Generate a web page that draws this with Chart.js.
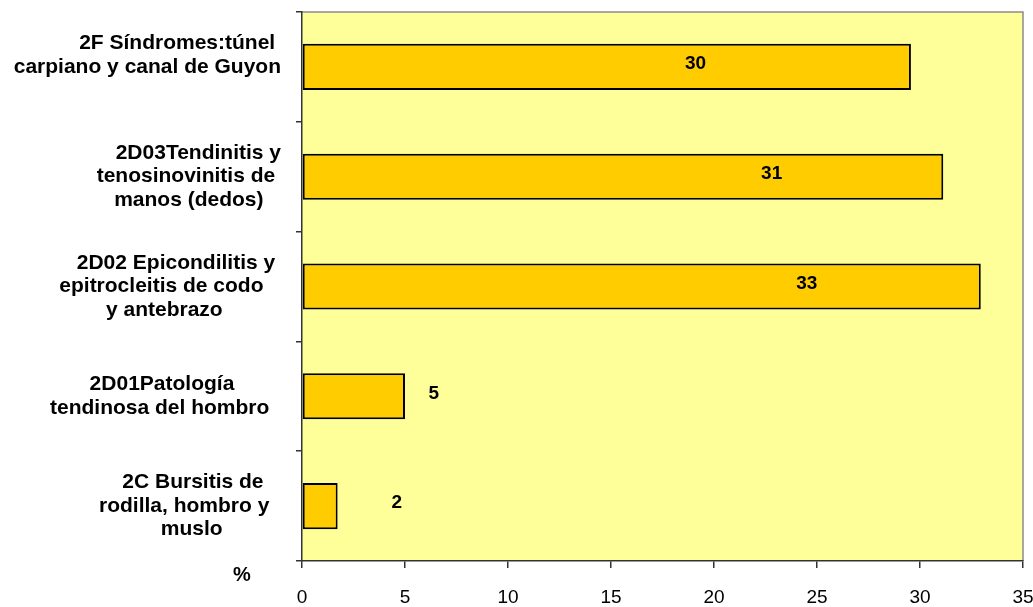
<!DOCTYPE html>
<html>
<head>
<meta charset="utf-8">
<script src="https://cdn.jsdelivr.net/npm/chart.js@4"></script>
<style>
  html, body { margin: 0; padding: 0; background: #fff; }
  #wrap { width: 1033px; height: 607px; }
</style>
</head>
<body>
<div id="wrap"><canvas id="grafico"></canvas></div>
<script>
// Categorías (líneas tal como aparecen; los espacios finales desplazan el texto como en el original)
const categorias = [
  ['2F Síndromes:túnel ', 'carpiano y canal de Guyon', ''],
  ['2D03Tendinitis y', 'tenosinovinitis de ', 'manos (dedos)   '],
  ['2D02 Epicondilitis y ', 'epitrocleitis de codo   ', 'y antebrazo          '],
  ['2D01Patología        ', 'tendinosa del hombro  '],
  ['2C Bursitis de   ', 'rodilla, hombro y  ', 'muslo          ']
];
// Porcentajes
const porcentajes = [29.56, 31.13, 32.95, 5.0, 1.73];
// Eje X
const ejeMin = 0;
const ejeMax = 35;
const ejePaso = 5;
const tituloEje = '%';

const fuente = "'Liberation Sans', Arial, sans-serif";

// dónde va cada etiqueta de valor (en unidades del eje X)
const posEtiqueta = [19.1, 22.8, 24.5, 6.4, 4.6];

// Fondo amarillo del área de trazado con borde gris arriba y a la derecha
const fondo = {
  id: 'fondo',
  beforeDraw(chart) {
    const { ctx, chartArea: a } = chart;
    ctx.save();
    ctx.fillStyle = '#FFFF99';
    ctx.fillRect(a.left, a.top, a.right - a.left, a.bottom - a.top);
    ctx.strokeStyle = '#8c8c8c';
    ctx.lineWidth = 1.5;
    ctx.beginPath();
    ctx.moveTo(a.left, a.top);
    ctx.lineTo(a.right, a.top);
    ctx.lineTo(a.right, a.bottom);
    ctx.stroke();
    ctx.restore();
  }
};

// Etiquetas de valor y el "%"
const etiquetas = {
  id: 'etiquetas',
  afterDatasetsDraw(chart) {
    const { ctx, scales: { x } } = chart;
    const meta = chart.getDatasetMeta(0);
    ctx.save();
    ctx.fillStyle = '#000';
    ctx.font = 'bold 19px ' + fuente;
    ctx.textAlign = 'center';
    ctx.textBaseline = 'middle';
    meta.data.forEach((bar, i) => {
      ctx.fillText(String(Math.round(porcentajes[i])), x.getPixelForValue(posEtiqueta[i]), bar.y - 3);
    });
    ctx.font = 'bold 20px ' + fuente;
    ctx.fillText(tituloEje, chart.chartArea.left - 60, chart.chartArea.bottom + 14);
    ctx.restore();
  }
};

new Chart(document.getElementById('grafico'), {
  type: 'bar',
  data: {
    labels: categorias,
    datasets: [{
      data: porcentajes,
      backgroundColor: '#FFCC00',
      borderColor: '#000',
      borderWidth: 2,
      borderSkipped: false,
      categoryPercentage: 1,
      barPercentage: 0.42
    }]
  },
  options: {
    indexAxis: 'y',
    responsive: true,
    maintainAspectRatio: false,
    animation: false,
    layout: { padding: { top: 12, right: 10, bottom: 0, left: 12 } },
    plugins: {
      legend: { display: false },
      tooltip: { enabled: false }
    },
    scales: {
      x: {
        min: ejeMin,
        max: ejeMax,
        ticks: {
          stepSize: ejePaso,
          color: '#000',
          padding: 20,
          font: { family: fuente, size: 19, lineHeight: 1 }
        },
        grid: { drawOnChartArea: false, tickLength: 7, color: '#333', lineWidth: 1.5 },
        border: { color: '#333', width: 1.5 },
        afterFit(s) {
          s.height = 46;
          s.paddingLeft = 0;
          s.paddingRight = 0;
        }
      },
      y: {
        ticks: {
          color: '#000',
          padding: 15,
          crossAlign: 'near',
          autoSkip: false,
          font: { family: fuente, size: 21, weight: 'bold', lineHeight: 1.12 }
        },
        grid: { offset: true, drawOnChartArea: false, tickLength: 6, color: '#333', lineWidth: 1.5 },
        border: { color: '#333', width: 1.5 },
        afterFit(s) {
          s.width = 290;
          s.paddingTop = 0;
          s.paddingBottom = 0;
        }
      }
    }
  },
  plugins: [fondo, etiquetas]
});
</script>
</body>
</html>
